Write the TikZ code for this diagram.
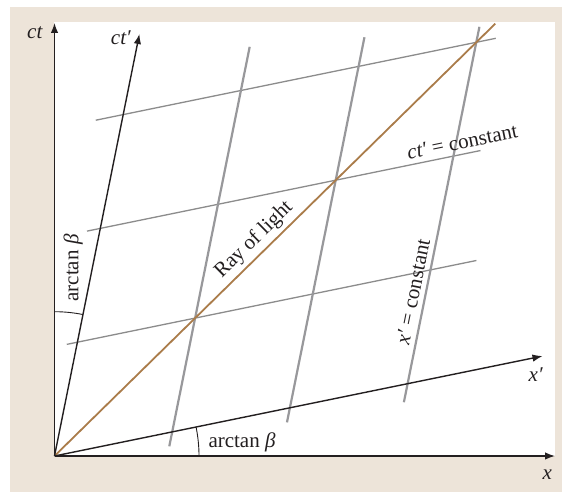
\documentclass[tikz,border=0pt]{standalone}
\usepackage{fontspec}
\setmainfont{Liberation Serif}
\usetikzlibrary{arrows.meta}
\definecolor{beige}{RGB}{237,228,217}
\definecolor{raybrown}{RGB}{170,124,74}
\definecolor{gridA}{RGB}{152,152,155}
\definecolor{gridB}{RGB}{140,140,140}
\definecolor{ink}{RGB}{35,31,32}
\begin{document}
\begin{tikzpicture}[x=1pt,y=1pt,
  font=\fontsize{21}{25}\selectfont,
  axis/.style={line width=1.4pt, draw=ink, -{Latex[length=10pt,width=7.5pt]}},
  xconst/.style={line width=2.2pt, draw=gridA},
  tconst/.style={line width=1.3pt, draw=gridB},
  lightray/.style={line width=1.8pt, draw=raybrown},
  angarc/.style={line width=0.9pt, draw=ink},
  lbl/.style={inner sep=0pt, text=ink}]
\fill[white] (0,0) rectangle (562,492);
\fill[beige] (10,0) rectangle (562,485);
\fill[white] (53.5,36) rectangle (555,470);
\useasboundingbox (0,0) rectangle (562,492);
\coordinate (O) at (54.5,36);
\coordinate (ctEnd) at (54.5,469);
\coordinate (xEnd) at (555,36);
\begin{scope}[shift={(O)}, x={(117.7pt,24.1pt)}, y={(22.9pt,113.8pt)}]
  \coordinate (ctpEnd) at (0,3.708);
  \coordinate (xpEnd) at (4.146,0);
  \coordinate (rayEnd) at (3.135,3.135);
  % ct' = constant
  \draw[tconst] (-0.09,1) -- (3.39,1);
  \draw[tconst] (-0.113,2) -- (3.23,2);
  \draw[tconst] (-0.233,3) -- (3.165,3);
  % x' = constant
  \draw[xconst] (1,-0.127) -- (1,3.384);
  \draw[xconst] (2,-0.128) -- (2,3.256);
  \draw[xconst] (3,-0.163) -- (3,3.136);
\end{scope}
\draw[lightray] (O) -- (rayEnd);
\draw[axis] (O) -- (ctEnd);
\draw[axis] (O) -- (xEnd);
\draw[axis] (O) -- (ctpEnd);
\draw[axis] (O) -- (xpEnd);
\draw[angarc] (O) ++(0:144.5) arc[start angle=0, end angle=11.57, radius=144.5];
\draw[angarc] (O) ++(90:144.3) arc[start angle=90, end angle=78.6, radius=144.3];
\node[lbl, anchor=base] (ct) at (35,453.7) {\textit{ct}};
\node[lbl, anchor=base] (ctp) at (121,447) {\textit{ct′}};
\node[lbl, anchor=base] (xp) at (535.8,110.3) {\textit{x′}};
\node[lbl, anchor=base] (x) at (547.3,12) {\textit{x}};
\node[lbl, anchor=base west] (arcB) at (208.3,44.3) {arctan \textit{β}};
\node[lbl, anchor=base west, rotate=90] (arcL) at (78.3,190.3) {arctan \textit{β}};
\node[lbl, rotate=44.45] (rayL) at (254,252) {Ray of light};
\node[lbl, rotate=11.57] (ctc) at (462.3,350.3) {\textit{ct′} = constant};
\node[lbl, rotate=78.6] (xc) at (413,200.3) {\textit{x′} = constant};
\end{tikzpicture}
\end{document}
